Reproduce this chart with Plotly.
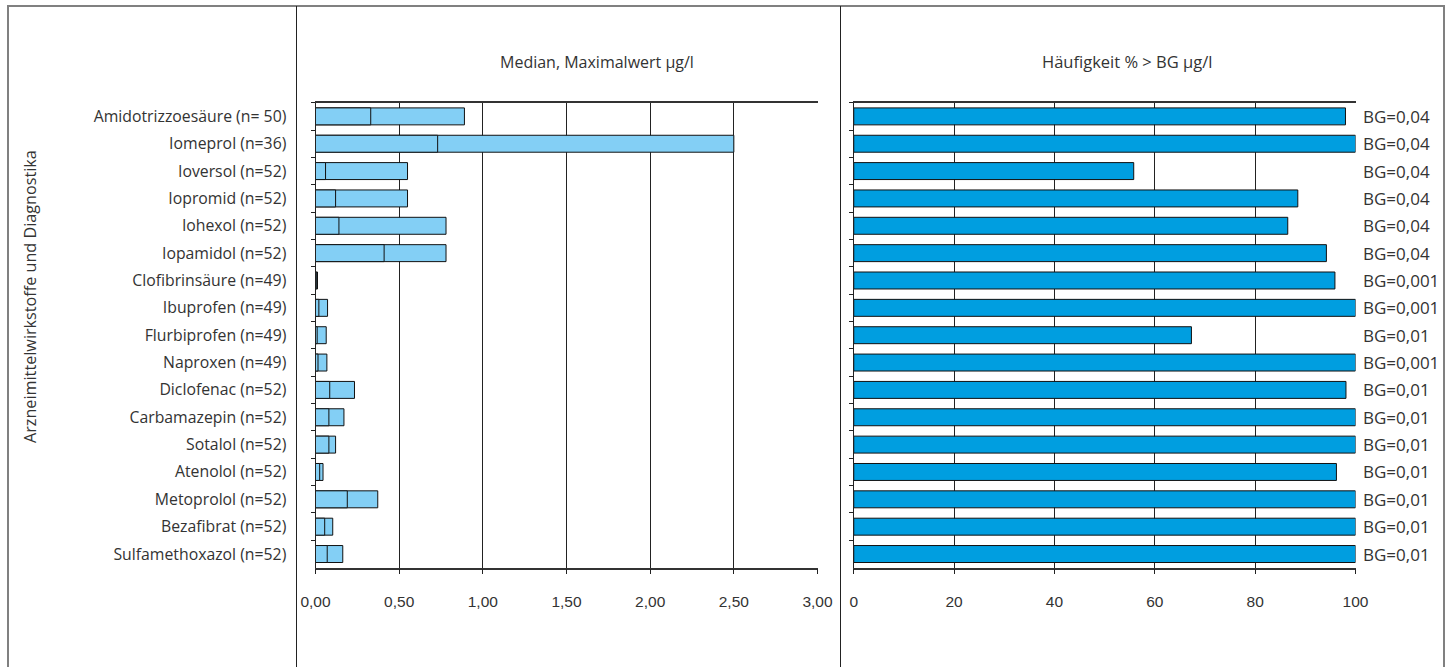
import plotly.graph_objects as go

# Substances (top to bottom), with sample count in the label
substances = [
    "Amidotrizzoesäure (n= 50)",
    "Iomeprol (n=36)",
    "Ioversol (n=52)",
    "Iopromid (n=52)",
    "Iohexol (n=52)",
    "Iopamidol (n=52)",
    "Clofibrinsäure (n=49)",
    "Ibuprofen (n=49)",
    "Flurbiprofen (n=49)",
    "Naproxen (n=49)",
    "Diclofenac (n=52)",
    "Carbamazepin (n=52)",
    "Sotalol (n=52)",
    "Atenolol (n=52)",
    "Metoprolol (n=52)",
    "Bezafibrat (n=52)",
    "Sulfamethoxazol (n=52)",
]

# Median and maximum concentration in µg/l
median_ug = [0.33, 0.73, 0.06, 0.12, 0.14, 0.41, 0.005, 0.02, 0.01, 0.015,
             0.085, 0.08, 0.08, 0.025, 0.19, 0.055, 0.07]
max_ug = [0.89, 2.50, 0.55, 0.55, 0.78, 0.78, 0.012, 0.072, 0.064, 0.068,
          0.233, 0.17, 0.12, 0.045, 0.372, 0.103, 0.163]

# Share of samples above the limit of quantification (%)
share_pct = [98.0, 100, 55.8, 88.5, 86.5, 94.2, 95.9, 100, 67.3, 100,
             98.1, 100, 100, 96.2, 100, 100, 100]

# Limit of quantification labels
bg_labels = ["BG=0,04", "BG=0,04", "BG=0,04", "BG=0,04", "BG=0,04", "BG=0,04",
             "BG=0,001", "BG=0,001", "BG=0,01", "BG=0,001", "BG=0,01", "BG=0,01",
             "BG=0,01", "BG=0,01", "BG=0,01", "BG=0,01", "BG=0,01"]

left_ticks = [0, 0.5, 1.0, 1.5, 2.0, 2.5, 3.0]
right_ticks = [0, 20, 40, 60, 80, 100]

W, H = 1451, 667
LIGHT = "#83cff5"
DARK = "#009ee0"
TXT = "#333333"
LABEL_FONT = "Open Sans, Noto Sans, sans-serif"
NUM_FONT = "Liberation Sans Narrow, Liberation Sans, Arial, sans-serif"


def px(x):
    return x / W


def py(y):
    return 1 - y / H


fig = go.Figure()

# Max bar drawn first, the median bar on top of it leaves the median divider
fig.add_trace(go.Bar(
    y=substances, x=max_ug, orientation="h", width=0.62,
    marker=dict(color=LIGHT, line=dict(color="#111111", width=1)),
    xaxis="x", yaxis="y", hoverinfo="x+y", name="Maximalwert",
))
fig.add_trace(go.Bar(
    y=substances, x=median_ug, orientation="h", width=0.62,
    marker=dict(color=LIGHT, line=dict(color="#111111", width=1)),
    xaxis="x", yaxis="y", hoverinfo="x+y", name="Median",
))
fig.add_trace(go.Bar(
    y=substances, x=share_pct, orientation="h", width=0.62,
    marker=dict(color=DARK, line=dict(color="#111111", width=1)),
    xaxis="x2", yaxis="y2", hoverinfo="x+y", name="Häufigkeit",
))

yaxis_common = dict(
    type="category",
    categoryorder="array",
    categoryarray=substances,
    autorange="reversed",
    domain=[py(567.7), py(102.7)],
    showgrid=False,
    ticks="outside",
    tickson="boundaries",
    ticklen=4,
    tickcolor="#222222",
    showline=True,
    linecolor="#222222",
    linewidth=1,
    mirror=False,
    automargin=False,
    fixedrange=True,
)

xaxis_common = dict(
    showgrid=True,
    gridcolor="#222222",
    gridwidth=1,
    ticks="outside",
    ticklen=5,
    tickcolor="#222222",
    showline=True,
    linecolor="#333333",
    linewidth=1.5,
    mirror=True,
    zeroline=False,
    tickfont=dict(family=NUM_FONT, size=15.5, color=TXT),
    ticklabelstandoff=14,
    automargin=False,
    fixedrange=True,
)

fig.update_layout(
    template="none",
    width=W, height=H,
    autosize=False,
    margin=dict(l=0, r=0, t=0, b=0, pad=0),
    paper_bgcolor="white",
    plot_bgcolor="white",
    barmode="overlay",
    showlegend=False,
    separators=",.",
    font=dict(family=LABEL_FONT, color=TXT, size=16),
    xaxis=dict(
        xaxis_common,
        domain=[px(315.5), px(817.5)],
        range=[0, 3],
        tickvals=left_ticks,
        tickformat=".2f",
        anchor="y",
    ),
    xaxis2=dict(
        xaxis_common,
        domain=[px(853.75), px(1355.5)],
        range=[0, 100],
        tickvals=right_ticks,
        tickformat="d",
        anchor="y2",
    ),
    yaxis=dict(
        yaxis_common,
        anchor="x",
        showticklabels=True,
        tickfont=dict(family=LABEL_FONT, size=15.8, color=TXT),
        ticklabelstandoff=25,
    ),
    yaxis2=dict(
        yaxis_common,
        anchor="x2",
        showticklabels=False,
    ),
)

annotations = [
    dict(text="Median, Maximalwert µg/l", xref="paper", yref="paper",
         x=px(597), y=py(62), xanchor="center", yanchor="middle",
         showarrow=False, font=dict(size=16, color=TXT)),
    dict(text="Häufigkeit % > BG µg/l", xref="paper", yref="paper",
         x=px(1127), y=py(62), xanchor="center", yanchor="middle",
         showarrow=False, font=dict(size=16.5, color=TXT)),
    dict(text="Arzneimittelwirkstoffe und Diagnostika", xref="paper", yref="paper",
         x=px(30), y=py(297), xanchor="center", yanchor="middle",
         textangle=-90, showarrow=False, font=dict(size=16.2, color=TXT)),
]
for name, lab in zip(substances, bg_labels):
    annotations.append(dict(
        text=lab, xref="x2", yref="y2", x=100, y=name,
        xanchor="left", yanchor="middle", xshift=5, showarrow=False,
        font=dict(size=17, color=TXT),
    ))
fig.update_layout(annotations=annotations)

# Outer frame and panel dividers
shapes = [
    dict(type="rect", xref="paper", yref="paper",
         x0=px(8), x1=px(1444), y0=py(700), y1=py(6),
         line=dict(color="#808080", width=2), layer="below"),
    dict(type="line", xref="paper", yref="paper",
         x0=px(296.5), x1=px(296.5), y0=py(700), y1=py(6),
         line=dict(color="#222222", width=1)),
    dict(type="line", xref="paper", yref="paper",
         x0=px(840.5), x1=px(840.5), y0=py(700), y1=py(6),
         line=dict(color="#222222", width=1)),
]
fig.update_layout(shapes=shapes)

fig.write_html("out.html")
